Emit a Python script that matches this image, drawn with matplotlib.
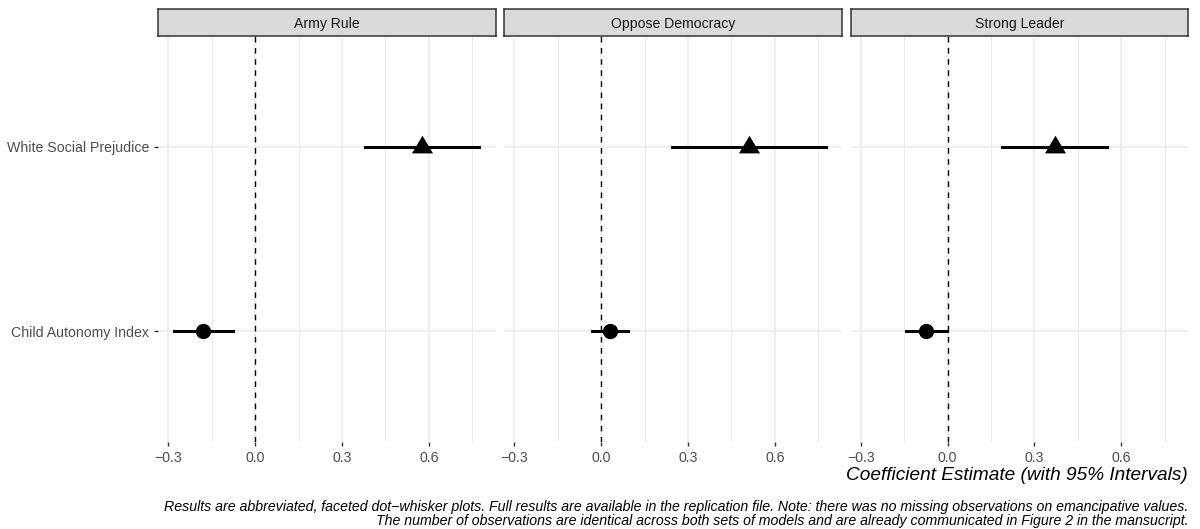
import matplotlib.pyplot as plt
from matplotlib.ticker import MultipleLocator
from matplotlib.path import Path

plt.rcParams['font.family'] = ['Liberation Sans', 'DejaVu Sans']

# data
outcomes = ['Army Rule', 'Oppose Democracy', 'Strong Leader']
terms = ['Child Autonomy Index', 'White Social Prejudice']
est_child = [-0.181, 0.029, -0.074]
lo_child = [-0.282, -0.030, -0.143]
hi_child = [-0.078, 0.094, -0.001]
est_prej = [0.576, 0.510, 0.372]
lo_prej = [0.380, 0.245, 0.188]
hi_prej = [0.772, 0.778, 0.552]
xticks = [-0.3, 0.0, 0.3, 0.6]

# triangle centred on its centroid, like ggplot's shape 17
tri = Path([(0, 2 / 3), (-0.595, -1 / 3), (0.595, -1 / 3), (0, 2 / 3)],
           [Path.MOVETO, Path.LINETO, Path.LINETO, Path.CLOSEPOLY])

W, H = 1200, 529
fig = plt.figure(figsize=(W / 100, H / 100), dpi=100)

lefts = [158.3, 504.3, 850.7]
pw = 337.4
ptop, pbot = 36.3, 441.7
strip_h = 27

for i, name in enumerate(outcomes):
    ax = fig.add_axes([lefts[i] / W, (H - pbot) / H, pw / W, (pbot - ptop) / H])
    ax.set_xlim(-0.3346, 0.831)
    ax.set_ylim(0.4, 2.6)
    ax.xaxis.set_minor_locator(MultipleLocator(0.15))
    ax.set_xticks(xticks)
    ax.set_xticklabels(['\u22120.3', '0.0', '0.3', '0.6'])
    ax.set_yticks([1, 2])
    ax.set_yticklabels(terms if i == 0 else [])
    ax.grid(which='major', color='#EBEBEB', lw=1.1)
    ax.grid(which='minor', axis='x', color='#EBEBEB', lw=0.7)
    ax.set_axisbelow(True)
    for s in ax.spines.values():
        s.set_visible(False)
    ax.tick_params(which='minor', length=0)
    ax.tick_params(which='major', length=3, width=1, color='#333333',
                   labelcolor='#4D4D4D', labelsize=10.2, pad=3.5)
    if i != 0:
        ax.tick_params(axis='y', length=0)

    ax.axvline(0, color='black', lw=1, ls=(0, (4, 4)), zorder=2)
    ax.plot([lo_prej[i], hi_prej[i]], [2, 2], color='black', lw=2.2, zorder=3)
    ax.plot(est_prej[i], 2, marker=tri, color='black', markersize=17, mew=0, zorder=4)
    ax.plot([lo_child[i], hi_child[i]], [1, 1], color='black', lw=2.2, zorder=3)
    ax.plot(est_child[i], 1, marker='o', color='black', markersize=11, mew=0, zorder=4)

    sax = fig.add_axes([lefts[i] / W, (H - ptop) / H, pw / W, strip_h / H])
    sax.set_facecolor('#D9D9D9')
    sax.set_xticks([])
    sax.set_yticks([])
    for s in sax.spines.values():
        s.set_color('#333333')
        s.set_linewidth(1.1)
    sax.text(0.5, 0.45, name, ha='center', va='center', color='#1A1A1A',
             fontsize=10.1, transform=sax.transAxes)

fig.text(1188 / W, 1 - 475 / H, 'Coefficient Estimate (with 95% Intervals)',
         ha='right', va='center', fontsize=13.7, style='italic')
fig.text(1188 / W, 1 - 514 / H,
         'Results are abbreviated, faceted dot\u2212whisker plots. Full results are available in the replication file. '
         'Note: there was no missing observations on emancipative values.\n'
         'The number of observations are identical across both sets of models and are already communicated in Figure 2 in the mansucript.',
         ha='right', va='center', fontsize=10.2, style='italic', linespacing=1.0)

fig.savefig('out.png', dpi=100)
